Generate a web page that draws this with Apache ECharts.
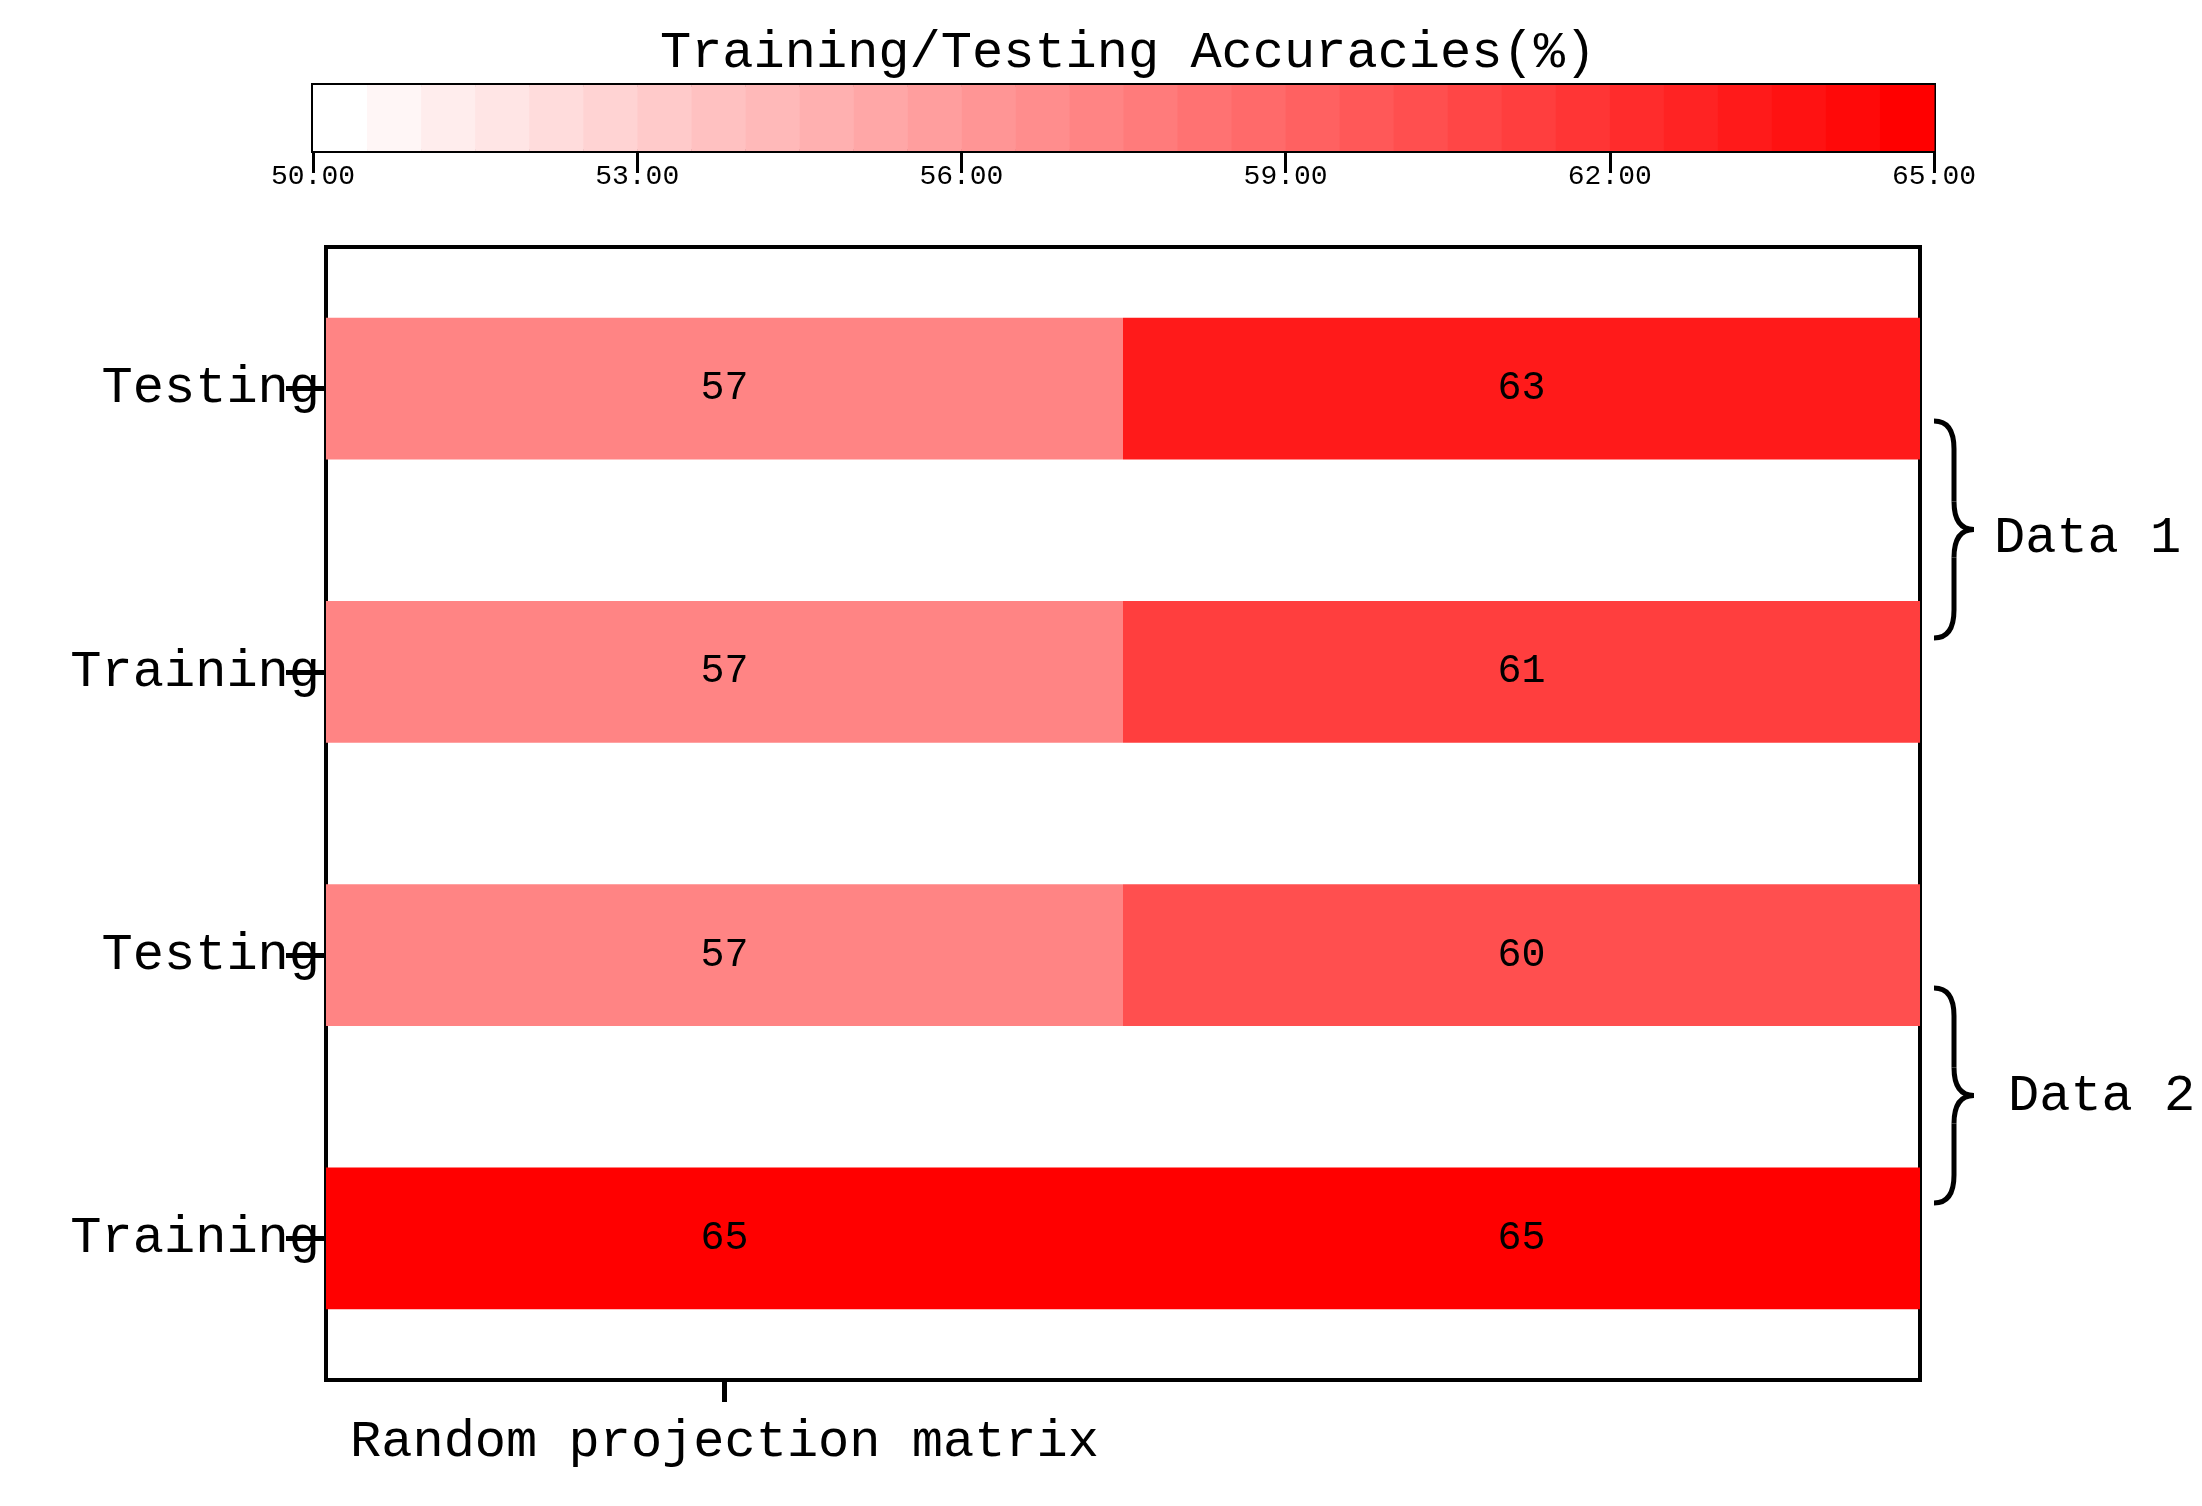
<!DOCTYPE html>
<html>
<head>
<meta charset="utf-8">
<script src="https://cdn.jsdelivr.net/npm/echarts@6/dist/echarts.min.js"></script>
<style>html,body{margin:0;padding:0;background:#fff}#main{width:2202px;height:1506px}</style>
</head>
<body>
<div id="main"></div>
<script>
// 数据
var methods = ['Random projection matrix', 'TMV-TSK-FC'];
var rows = ['Training', 'Testing', 'Training', 'Testing']; // 从下往上
var randomAcc = [65, 57, 57, 57];
var tmvAcc = [65, 60, 61, 63];
var cbMin = 50, cbMax = 65, cbStep = 0.5, cbInterval = 3;

var FONT = 'Liberation Mono';
var nBins = Math.round((cbMax - cbMin) / cbStep);

function colorOf(v) {
    var i = Math.min(nBins - 1, Math.max(0, Math.floor((v - cbMin) / cbStep)));
    var g = Math.round(255 * (1 - i / (nBins - 1)));
    return 'rgb(255,' + g + ',' + g + ')';
}

var cells = [];
for (var r = 0; r < rows.length; r++) {
    cells.push([0, r, randomAcc[r]]);
    cells.push([1, r, tmvAcc[r]]);
}
var bins = [];
for (var b = 0; b < nBins; b++) bins.push([cbMin + b * cbStep, cbMin + (b + 1) * cbStep]);

// 右侧大括号
function brace(x, y1, y2) {
    var m = (y1 + y2) / 2, w = 40, h = w / 2, st = { stroke: '#000', lineWidth: 5, fill: null };
    function curve(ax, ay, cx, cy, bx, by) {
        return { type: 'bezierCurve', z: 10, shape: { x1: ax, y1: ay, cpx1: cx, cpy1: cy, x2: bx, y2: by }, style: st };
    }
    function seg(ax, ay, bx, by) {
        return { type: 'line', z: 10, shape: { x1: ax, y1: ay, x2: bx, y2: by }, style: st };
    }
    return [
        curve(x, y1, x + h, y1, x + h, y1 + 28),
        seg(x + h, y1 + 28, x + h, m - 28),
        curve(x + h, m - 28, x + h, m, x + w, m),
        curve(x + w, m, x + h, m, x + h, m + 28),
        seg(x + h, m + 28, x + h, y2 - 28),
        curve(x + h, y2 - 28, x + h, y2, x, y2)
    ];
}

var myChart = echarts.init(document.getElementById('main'));
var option = {
    backgroundColor: '#fff',
    animation: false,
    title: {
        text: 'Training/Testing Accuracies(%)',
        left: 1123, top: 22, textAlign: 'center',
        textStyle: { fontFamily: FONT, fontSize: 52, fontWeight: 'normal', color: '#000' }
    },
    grid: [
        { left: 326, top: 247, width: 1594, height: 1133, show: true, borderColor: '#000', borderWidth: 4, backgroundColor: '#fff' },
        { left: 313, top: 85, width: 1621, height: 66, show: true, borderColor: '#000', borderWidth: 4 }
    ],
    xAxis: [
        {
            type: 'category', gridIndex: 0, data: methods,
            axisLine: { show: false },
            axisTick: { show: true, alignWithLabel: true, length: 22, lineStyle: { color: '#000', width: 5 } },
            axisLabel: { fontFamily: FONT, fontSize: 52, color: '#000', margin: 36 }
        },
        {
            type: 'value', gridIndex: 1, min: cbMin, max: cbMax, interval: cbInterval,
            splitLine: { show: false },
            axisLine: { show: false },
            axisTick: { show: true, length: 22, lineStyle: { color: '#000', width: 3 } },
            axisLabel: { fontFamily: FONT, fontSize: 28, color: '#000', margin: 12, formatter: function (v) { return v.toFixed(2); } }
        }
    ],
    yAxis: [
        {
            type: 'category', gridIndex: 0, data: ['D2 Training', 'D2 Testing', 'D1 Training', 'D1 Testing'],
            axisLine: { show: false },
            axisTick: { show: true, alignWithLabel: true, length: 40, lineStyle: { color: '#000', width: 5 } },
            axisLabel: { fontFamily: FONT, fontSize: 52, color: '#000', margin: 6, formatter: function (v, i) { return rows[i]; } }
        },
        { type: 'value', gridIndex: 1, min: 0, max: 1, show: false }
    ],
    series: [
        {
            type: 'custom', xAxisIndex: 0, yAxisIndex: 0, data: cells,
            renderItem: function (params, api) {
                var c = api.coord([api.value(0), api.value(1)]);
                var s = api.size([1, 1]);
                var v = api.value(2);
                return {
                    type: 'rect',
                    shape: { x: c[0] - s[0] / 2, y: c[1] - s[1] / 4, width: s[0], height: s[1] / 2 },
                    style: { fill: colorOf(v) },
                    textContent: { style: { text: String(v), fontFamily: FONT, fontSize: 40, fill: '#000' } },
                    textConfig: { position: 'inside' }
                };
            }
        },
        {
            type: 'custom', xAxisIndex: 1, yAxisIndex: 1, data: bins,
            renderItem: function (params, api) {
                var p0 = api.coord([api.value(0), 1]);
                var p1 = api.coord([api.value(1), 0]);
                return {
                    type: 'rect',
                    shape: { x: p0[0], y: p0[1], width: p1[0] - p0[0] + 0.5, height: p1[1] - p0[1] },
                    style: { fill: colorOf((api.value(0) + api.value(1)) / 2) }
                };
            }
        }
    ],
    graphic: brace(1934, 421, 638).concat(brace(1934, 988, 1203)).concat([
        { type: 'text', left: 1994, top: 512, style: { text: 'Data 1', fontFamily: FONT, fontSize: 52, fill: '#000' } },
        { type: 'text', left: 2008, top: 1070, style: { text: 'Data 2', fontFamily: FONT, fontSize: 52, fill: '#000' } }
    ])
};
myChart.setOption(option);
</script>
</body>
</html>
